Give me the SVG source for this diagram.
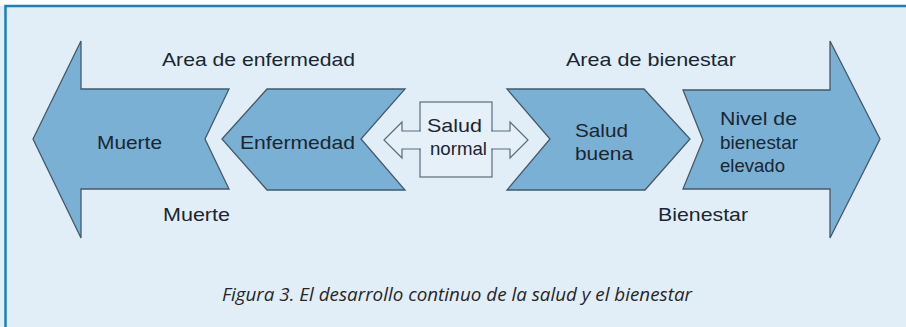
<svg xmlns="http://www.w3.org/2000/svg" width="906" height="327" viewBox="0 0 906 327">
<style>
.bg{fill:#e2eef7}
.ar{fill:#79b0d4;stroke:#44596a;stroke-width:1.3;stroke-linejoin:miter}
.t{font-family:"Liberation Sans",Arial,sans-serif;font-size:19px;fill:#1a2630}
.cap{font-family:"Open Sans","Noto Sans",sans-serif;font-style:italic;font-size:19px;fill:#262626}
.frame{stroke:#1a7fbf;stroke-width:2.5;fill:none}
</style>
<rect x="0" y="0" width="906" height="327" fill="#ffffff"/>
<rect class="bg" x="0" y="6" width="906" height="321"/>
<path class="frame" d="M5.5,327 V6 H906"/>

<g id="muerte">
<polygon class="ar" points="33,139 81,41 81,89 229,89 205,139 229,189 81,189 81,238"/>
<text class="t" x="97" y="149" textLength="65" lengthAdjust="spacingAndGlyphs">Muerte</text>
</g>
<g id="enfermedad">
<polygon class="ar" points="222,139 267,89 405,89 361,139 405,190 267,190"/>
<text class="t" x="240" y="149" textLength="115" lengthAdjust="spacingAndGlyphs">Enfermedad</text>
</g>
<g id="salud-normal">
<rect x="420" y="102" width="72" height="75" fill="#e6f0f8" stroke="#5a6d7a" stroke-width="1.2"/>
<polygon points="384,140 402,122 402,131 510,131 510,122 528,140 510,158 510,149 402,149 402,158" fill="#e6f0f8" stroke="#5a6d7a" stroke-width="1.2" stroke-linejoin="miter"/>
<rect x="421" y="103" width="70" height="73" fill="#e6f0f8"/>
<text class="t" x="427" y="132" textLength="55" lengthAdjust="spacingAndGlyphs">Salud</text>
<text class="t" x="430" y="155" textLength="57" lengthAdjust="spacingAndGlyphs">normal</text>
</g>
<g id="salud-buena">
<polygon class="ar" points="507,89 644,89 690,139 645,190 507,190 550,139"/>
<text class="t" x="575" y="137" textLength="53" lengthAdjust="spacingAndGlyphs">Salud</text>
<text class="t" x="575" y="160" textLength="58" lengthAdjust="spacingAndGlyphs">buena</text>
</g>
<g id="nivel-bienestar">
<polygon class="ar" points="683,90 830,90 830,41 880,139 830,238 830,189 683,189 703,140"/>
<text class="t" x="720" y="125" textLength="77" lengthAdjust="spacingAndGlyphs">Nivel de</text>
<text class="t" x="720" y="149" textLength="78" lengthAdjust="spacingAndGlyphs">bienestar</text>
<text class="t" x="720" y="172" textLength="65" lengthAdjust="spacingAndGlyphs">elevado</text>
</g>

<g id="labels">
<text class="t" x="162" y="66" textLength="193" lengthAdjust="spacingAndGlyphs">Area de enfermedad</text>
<text class="t" x="566" y="66" textLength="170" lengthAdjust="spacingAndGlyphs">Area de bienestar</text>
<text class="t" x="163" y="221" textLength="67" lengthAdjust="spacingAndGlyphs">Muerte</text>
<text class="t" x="658" y="221" textLength="90" lengthAdjust="spacingAndGlyphs">Bienestar</text>
<text class="cap" x="222" y="301" textLength="470" lengthAdjust="spacingAndGlyphs">Figura 3. El desarrollo continuo de la salud y el bienestar</text>
</g>
<g id="connectors"/>
</svg>
